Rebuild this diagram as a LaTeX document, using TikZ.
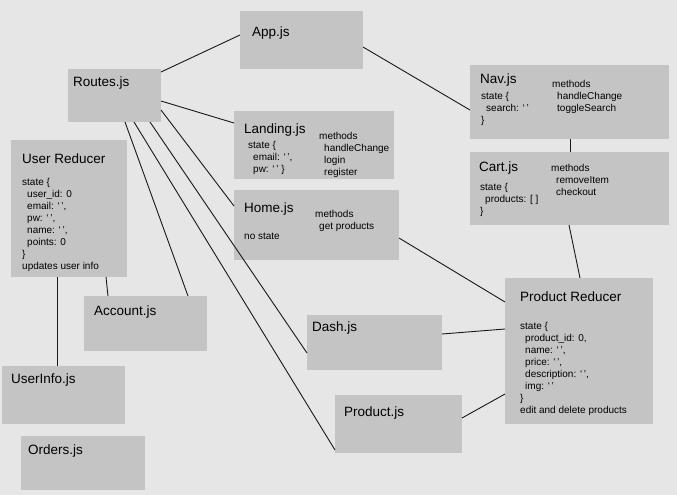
\documentclass[tikz,border=0pt]{standalone}
\usepackage{fontspec}
\setmainfont{Liberation Sans}
\usepackage{tikz}
\definecolor{bggray}{HTML}{E6E6E6}
\definecolor{boxgray}{HTML}{C4C4C4}
\tikzset{
	box/.style={fill=boxgray, anchor=north west, inner sep=0pt, outer sep=0pt},
	title/.style={anchor=base west, inner sep=0pt, font=\fontsize{13.5}{16}\selectfont},
	note/.style={anchor=north west, inner sep=0pt, align=left, font=\fontsize{10}{12}\selectfont},
	link/.style={line width=0.9pt, color=black!90}
}
\newcommand{\ind}{\hspace*{5pt}}
\begin{document}
\begin{tikzpicture}[x=1pt, y=-1pt]
			%%%%% START %%%%%
			
			\fill[bggray] (0, 0) rectangle (677, 495);
			\useasboundingbox (0, 0) rectangle (677, 495);
			
			\node[box, minimum width=123pt, minimum height=58pt] (app) at (240, 11) {};
			\node[box, minimum width=93pt, minimum height=53pt] (routes) at (68, 69) {};
			\node[box, minimum width=160pt, minimum height=68pt] (landing) at (234, 111) {};
			\node[box, minimum width=165pt, minimum height=70pt] (home) at (234, 190) {};
			\node[box, minimum width=116pt, minimum height=137pt] (user) at (11, 140) {};
			\node[box, minimum width=199pt, minimum height=74pt] (nav) at (470, 65) {};
			\node[box, minimum width=199pt, minimum height=73pt] (cart) at (470, 152) {};
			\node[box, minimum width=123pt, minimum height=55pt] (account) at (84, 296) {};
			\node[box, minimum width=123pt, minimum height=58pt] (userinfo) at (2, 366) {};
			\node[box, minimum width=124pt, minimum height=54pt] (orders) at (21, 436) {};
			\node[box, minimum width=135pt, minimum height=55pt] (dash) at (307, 315) {};
			\node[box, minimum width=127pt, minimum height=58pt] (product) at (335, 395) {};
			\node[box, minimum width=148pt, minimum height=146pt] (prodred) at (505, 278) {};
			
			\node[title] (appT) at (252, 37) {App.js};
			\node[title] (routesT) at (73, 86) {Routes.js};
			\node[title] (landingT) at (244, 133) {Landing.js};
			\node[title] (homeT) at (244, 212) {Home.js};
			\node[title] (userT) at (22, 163) {User Reducer};
			\node[title] (navT) at (480, 83) {Nav.js};
			\node[title] (cartT) at (479, 171) {Cart.js};
			\node[title] (accountT) at (94, 315) {Account.js};
			\node[title] (userinfoT) at (11, 383) {UserInfo.js};
			\node[title] (ordersT) at (28, 454) {Orders.js};
			\node[title] (dashT) at (312, 331) {Dash.js};
			\node[title] (productT) at (344, 416) {Product.js};
			\node[title] (prodredT) at (520, 301) {Product Reducer};
			
			\node[note] (landingS) at (248, 139.6) {\strut state \{\\ \ind email: `\,',\\ \ind pw: `\,' \}};
			\node[note] (landingM) at (319, 130.6) {\strut methods\\ \ind handleChange\\ \ind login\\ \ind register};
			\node[note] (homeS) at (244, 230.6) {\strut no state};
			\node[note] (homeM) at (315, 208.6) {\strut methods\\ \hspace*{4pt}get products};
			\node[note] (userS) at (22, 177.3) {\strut state \{\\ \ind user\_id: 0\\ \ind email: `\,',\\ \ind pw: `\,',\\ \ind name: `\,',\\ \ind points: 0\\ \}\\ updates user info};
			\node[note] (navS) at (481, 91.3) {\strut state \{\\ \ind search: `\,'\\ \}};
			\node[note] (navM) at (552, 79.1) {\strut methods\\ \ind handleChange\\ \ind toggleSearch};
			\node[note] (cartS) at (480, 181.6) {\strut state \{\\ \ind products: [ ]\\ \}};
			\node[note] (cartM) at (551, 162.6) {\strut methods\\ \ind removeItem\\ \ind checkout};
			\node[note] (prodredS) at (520, 320.6) {\strut state \{\\ \ind product\_id: 0,\\ \ind name: `\,',\\ \ind price: `\,',\\ \ind description: `\,',\\ \ind img: `\,'\\ \}\\ edit and delete products};
			
			\draw[link] ([yshift=-3pt]routes.north east) -- ([yshift=-24pt]app.north west);
			\draw[link] ([yshift=-36pt]app.north east) -- ([yshift=-45pt]nav.north west);
			\draw[link] ([yshift=-32pt]routes.north east) -- ([yshift=-12pt]landing.north west);
			\draw[link] ([yshift=-41pt]routes.north east) -- ([yshift=-16pt]home.north west);
			\draw[link] ([xshift=82pt]routes.south west) -- ([yshift=-38pt]dash.north west);
			\draw[link] ([xshift=66pt]routes.south west) -- ([yshift=-55pt]product.north west);
			\draw[link] ([xshift=57pt]routes.south west) -- ([xshift=104pt]account.north west);
			
			\draw[link] ([xshift=46pt]user.south west) -- ([xshift=55pt]userinfo.north west);
			\draw[link] ([xshift=95pt]user.south west) -- ([xshift=24pt]account.north west);
			
			\draw[link] ([xshift=100pt]nav.south west) -- ([xshift=100pt]cart.north west);
			\draw[link] ([xshift=99pt]cart.south west) -- ([xshift=75pt]prodred.north west);
			\draw[link] ([yshift=-48pt]home.north east) -- ([yshift=-24pt]prodred.north west);
			\draw[link] ([yshift=-19pt]dash.north east) -- ([yshift=-51pt]prodred.north west);
			\draw[link] ([yshift=-23pt]product.north east) -- ([yshift=-116pt]prodred.north west);
			
			%%%%% END %%%%%
\end{tikzpicture}
\end{document}
